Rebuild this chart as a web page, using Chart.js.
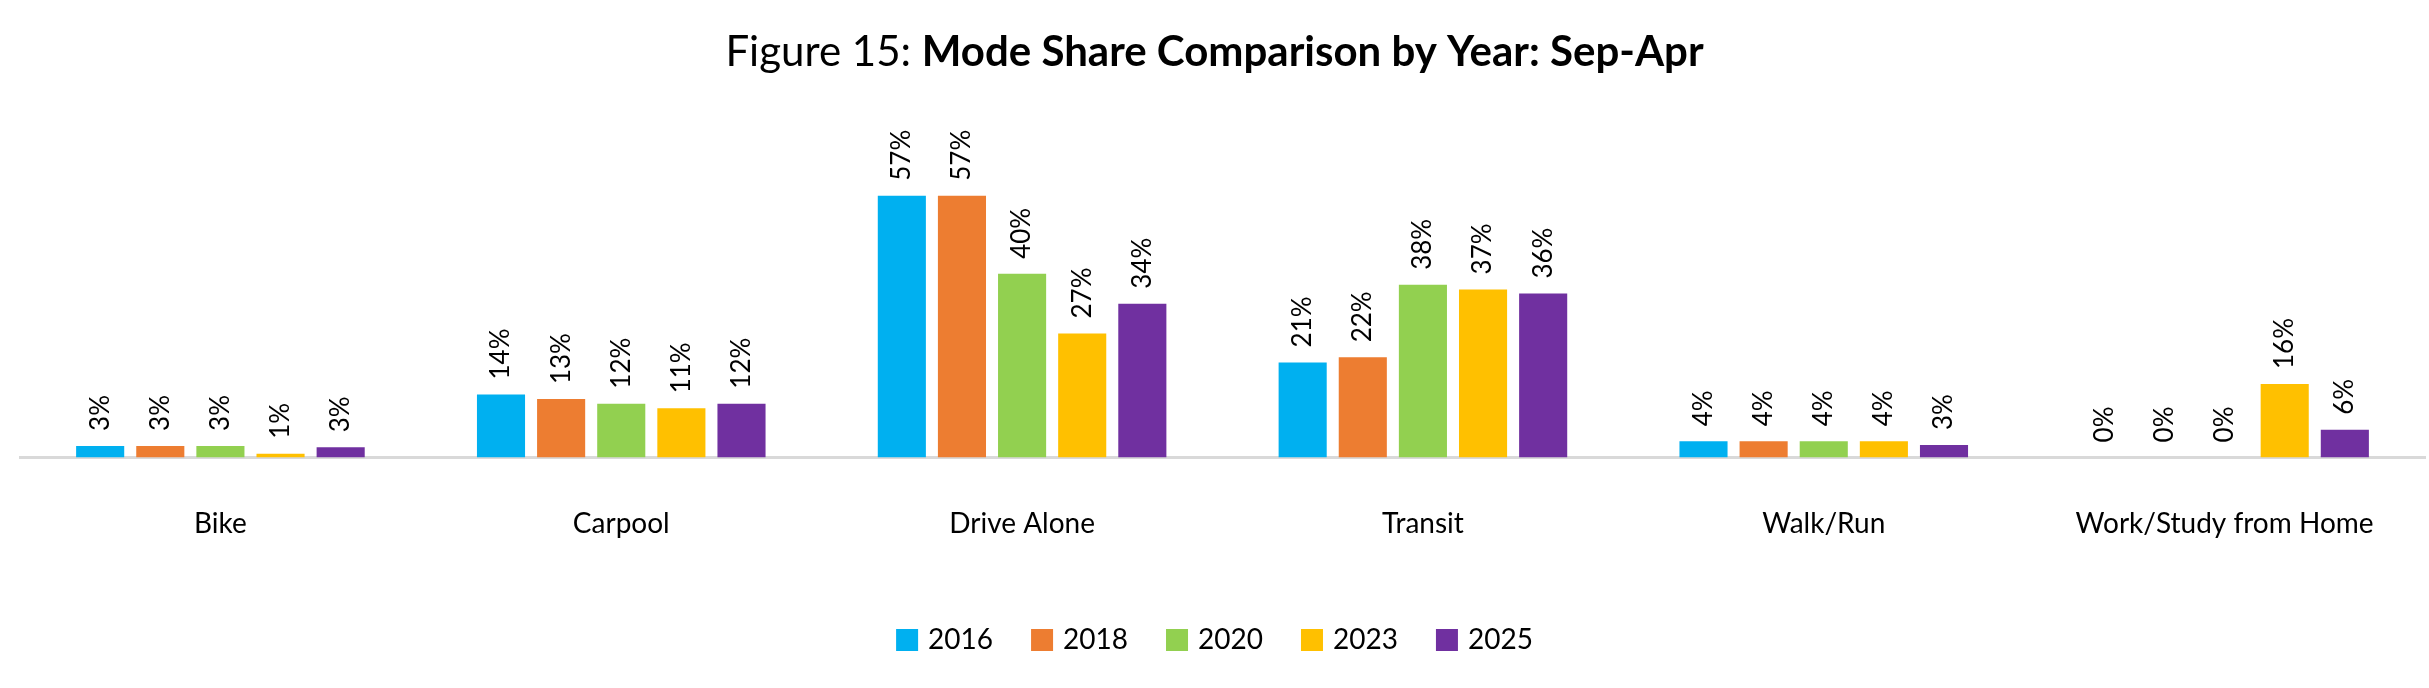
<!DOCTYPE html>
<html><head><meta charset="utf-8">
<script src="https://cdn.jsdelivr.net/npm/chart.js@4"></script>
<style>html,body{margin:0;padding:0;background:#fff;overflow:hidden}</style>
</head><body>
<canvas id="c" width="2429" height="688"></canvas>
<script>
const categories = ["Bike","Carpool","Drive Alone","Transit","Walk/Run","Work/Study from Home"];
const years = ["2016","2018","2020","2023","2025"];
const colors = ["#00B0F0","#ED7D31","#92D050","#FFC000","#7030A0"];
const v2016 = [2.5, 13.7, 57, 20.7, 3.5, 0];
const v2018 = [2.5, 12.7, 57, 21.8, 3.5, 0];
const v2020 = [2.5, 11.7, 40, 37.6, 3.5, 0];
const v2023 = [0.8, 10.7, 27, 36.6, 3.5, 16];
const v2025 = [2.2, 11.7, 33.5, 35.7, 2.7, 6];
const l2016 = ["3%","14%","57%","21%","4%","0%"];
const l2018 = ["3%","13%","57%","22%","4%","0%"];
const l2020 = ["3%","12%","40%","38%","4%","0%"];
const l2023 = ["1%","11%","27%","37%","4%","16%"];
const l2025 = ["3%","12%","34%","36%","3%","6%"];
const series = [v2016,v2018,v2020,v2023,v2025];
const labels = [l2016,l2018,l2020,l2023,l2025];
const FONT = "Lato, 'Open Sans', sans-serif";

const titlePlugin = {
  id:'ttl',
  afterDraw(chart){
    const ctx = chart.ctx;
    ctx.save();
    ctx.textBaseline='middle';
    ctx.fillStyle='#000';
    const a='Figure 15: ', b='Mode Share Comparison by Year: Sep-Apr';
    ctx.font='42px '+FONT; const wa=ctx.measureText(a).width;
    ctx.font='bold 42px '+FONT; const wb=ctx.measureText(b).width;
    let x=(chart.width-wa-wb)/2;
    ctx.font='42px '+FONT; ctx.textAlign='left'; ctx.fillText(a,x,52);
    ctx.font='bold 42px '+FONT; ctx.fillText(b,x+wa,52);
    // data labels
    ctx.font='26px '+FONT;
    chart.data.datasets.forEach((ds,i)=>{
      chart.getDatasetMeta(i).data.forEach((bar,j)=>{
        ctx.save();
        ctx.translate(bar.x, bar.y-15);
        ctx.rotate(-Math.PI/2);
        ctx.textAlign='left'; ctx.textBaseline='middle';
        ctx.fillText(labels[i][j],0,0);
        ctx.restore();
      });
    });
    // legend
    ctx.font='28px '+FONT;
    const box=22, gap=10, sp=38;
    let total=0;
    const ws=years.map(y=>ctx.measureText(y).width);
    ws.forEach((w,i)=>{total+=box+gap+w+(i<years.length-1?sp:0);});
    let lx=(chart.width-total)/2; const ly=640;
    years.forEach((y,i)=>{
      ctx.fillStyle=colors[i]; ctx.fillRect(lx,ly-box/2,box,box);
      ctx.fillStyle='#000'; ctx.textAlign='left'; ctx.textBaseline='middle';
      ctx.fillText(y,lx+box+gap,ly);
      lx+=box+gap+ws[i]+sp;
    });
    ctx.restore();
  }
};

new Chart(document.getElementById('c'),{
  type:'bar',
  data:{labels:categories,datasets:years.map((y,i)=>({label:y,data:series[i],backgroundColor:colors[i],categoryPercentage:0.75,barPercentage:0.8}))},
  options:{
    responsive:false,devicePixelRatio:1,animation:false,
    layout:{padding:{top:182,left:20,right:4,bottom:105}},
    plugins:{legend:{display:false},tooltip:{enabled:false},title:{display:false}},
    scales:{
      x:{grid:{display:false},border:{color:'#D9D9D9',width:3},ticks:{font:{size:28,family:FONT},color:'#000',padding:42}},
      y:{display:false,min:0,max:60}
    }
  },
  plugins:[titlePlugin]
});
</script>
</body></html>
